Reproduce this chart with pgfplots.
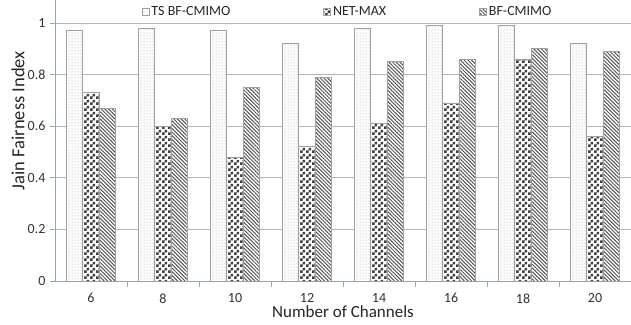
\documentclass[border=0pt]{standalone}
\usepackage{fontspec}
\setmainfont{Carlito}
\usepackage{pgfplots}
\pgfplotsset{compat=1.18}
\usetikzlibrary{patterns,patterns.meta}

\pgfdeclarepatternformonly{mychecker}{\pgfqpoint{0pt}{0pt}}{\pgfqpoint{5.6pt}{5.6pt}}{\pgfqpoint{5.6pt}{5.6pt}}{%
  \pgfpathrectangle{\pgfqpoint{0pt}{0pt}}{\pgfqpoint{2.8pt}{2.8pt}}%
  \pgfpathrectangle{\pgfqpoint{2.8pt}{2.8pt}}{\pgfqpoint{2.8pt}{2.8pt}}%
  \pgfusepath{fill}}

\definecolor{gridc}{HTML}{B4B4B4}
\definecolor{axc}{HTML}{8FA9B2}
\definecolor{barc}{HTML}{A0A0A0}
\definecolor{chk}{HTML}{404040}
\definecolor{strp}{HTML}{555555}
\definecolor{dotc}{HTML}{8A94AA}

\pgfplotsset{sqleg/.style={legend image code/.code={\draw[##1] (0pt,-3.5pt) rectangle (7pt,3.5pt);}}}

\begin{document}
\begin{tikzpicture}
\begin{axis}[
  at={(0,0)}, anchor=south west,
  scale only axis, width=576pt, height=281pt,
  xmin=-0.5, xmax=7.5, ymin=0, ymax=1.089,
  ybar=0pt, bar width=16.4pt,
  axis x line=bottom, axis y line=left,
  axis line style={-, draw=axc, line width=0.8pt},
  xtick={0,...,7}, xticklabels={6,8,10,12,14,16,18,20},
  minor xtick={0.5,1.5,...,6.5},
  ytick={0,0.2,...,1},
  tick align=outside,
  major tick length=5pt, minor tick length=6pt,
  major x tick style={draw=none},
  minor x tick style={draw=axc, line width=0.8pt},
  major y tick style={draw=axc, line width=0.8pt},
  ymajorgrids, grid style={draw=gridc, line width=0.8pt},
  /pgf/number format/assume math mode=true,
  ticklabel style={font=\fontsize{14}{16}\selectfont, text=black!80},
  xticklabel style={yshift=-4pt},
  yticklabel style={xshift=-1pt},
  xlabel={Number of Channels},
  ylabel={Jain Fairness Index},
  xlabel style={font=\fontsize{17}{20}\selectfont, text=black!85,
    at={(axis description cs:0.5,0)}, anchor=center, yshift=-31pt},
  ylabel style={font=\fontsize{18.5}{21}\selectfont, text=black!85,
    at={(axis description cs:0,0.57)}, anchor=center, yshift=37pt},
  legend style={at={(axis description cs:0.508,0.957)}, anchor=center,
    legend columns=3, draw=none, fill=none,
    font=\fontsize{14}{17}\selectfont, text=black!85,
    /tikz/every even column/.append style={column sep=91pt},
    nodes={inner sep=2pt}},
  legend cell align=left,
]
\addplot[draw=barc, line width=0.7pt, fill=white,
  postaction={pattern={Dots[distance=3pt, radius=0.5pt]}, pattern color=dotc}, sqleg]
  coordinates {(0,0.97) (1,0.98) (2,0.97) (3,0.92) (4,0.98) (5,0.99) (6,0.99) (7,0.92)};
\addplot[draw=barc, line width=0.7pt, fill=white,
  postaction={pattern=mychecker, pattern color=chk}, sqleg]
  coordinates {(0,0.73) (1,0.60) (2,0.48) (3,0.52) (4,0.61) (5,0.69) (6,0.86) (7,0.56)};
\addplot[draw=barc, line width=0.7pt, fill=white,
  postaction={pattern={Lines[angle=-45, distance=2.6pt, line width=1pt]}, pattern color=strp}, sqleg]
  coordinates {(0,0.67) (1,0.63) (2,0.75) (3,0.79) (4,0.85) (5,0.86) (6,0.90) (7,0.89)};
\legend{TS BF-CMIMO, NET-MAX, BF-CMIMO}
\end{axis}
\pgfresetboundingbox
\path (-55pt,-43pt) rectangle (576pt,281pt);
\end{tikzpicture}
\end{document}
